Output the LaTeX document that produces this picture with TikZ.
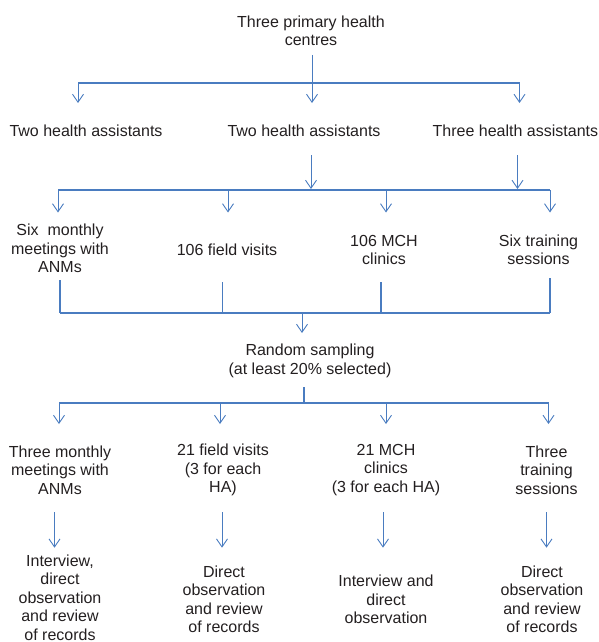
\documentclass[tikz,border=0pt]{standalone}
\usepackage{fontspec}
\setmainfont{Liberation Sans}
\usetikzlibrary{arrows.meta}
\definecolor{lineblue}{HTML}{4A7CC0}
\definecolor{txt}{HTML}{231F20}
\begin{document}
\begin{tikzpicture}[x=1pt,y=-1pt,
  lbl/.style={align=center, inner sep=0pt, text=txt, font=\fontsize{16}{18.4}\selectfont},
  conn/.style={draw=lineblue, line width=1.4pt},
  arr/.style={draw=lineblue, line width=0.9pt, -{Straight Barb[length=8pt,width=11pt,line width=0.9pt]}}]
\useasboundingbox (0,0) rectangle (598,642);

% ---- nodes
\node[lbl] (top) at (311,31) {Three primary health\\centres};
\node[lbl] (ha1) at (86,131) {Two health assistants};
\node[lbl] (ha2) at (304,131) {Two health assistants};
\node[lbl, anchor=west] (ha3) at (432.5,131) {Three health assistants};

\node[lbl] (m1) at (60,248.5) {Six~ monthly\\meetings with\\ANMs};
\node[lbl] (m2) at (227,250) {106 field visits};
\node[lbl] (m3) at (384,250) {106 MCH\\clinics};
\node[lbl] (m4) at (538.5,250) {Six training\\sessions};

\node[lbl] (rs) at (310,361) {Random sampling\\(at least 20\% selected)};

\node[lbl] (s1) at (60,470) {Three monthly\\meetings with\\ANMs};
\node[lbl] (s2) at (223,470) {21 field visits\\(3 for each\\HA)};
\node[lbl] (s3) at (386,470) {21 MCH\\clinics\\(3 for each HA)};
\node[lbl] (s4) at (546.5,470) {Three\\training\\sessions};

\node[lbl] (o1) at (60,597.5) {Interview,\\direct\\observation\\and review\\of records};
\node[lbl] (o2) at (224,599.3) {Direct\\observation\\and review\\of records};
\node[lbl] (o3) at (386,599.3) {Interview and\\direct\\observation};
\node[lbl] (o4) at (542,599.3) {Direct\\observation\\and review\\of records};

% ---- level 1: centres -> health assistants
\coordinate (t0) at (312,55);
\coordinate (j1l) at (78,83);
\coordinate (j1c) at (312,83);
\coordinate (j1r) at (519.5,83);
\draw[conn] (j1l) -- (j1r);
\draw[arr] (t0) -- ++(0,48);
\draw[arr] (j1l) -- ++(0,20);
\draw[arr] (j1r) -- ++(0,20);

% ---- level 2: health assistants -> activities
\coordinate (h2) at (311,155);
\coordinate (h3) at (517.5,155);
\coordinate (j2a) at (58,190);
\coordinate (j2b) at (228,190);
\coordinate (j2c) at (386,190);
\coordinate (j2d) at (550,190);
\draw[arr] (h2) -- ++(0,34);
\draw[arr] (h3) -- ++(0,34);
\draw[conn] (j2a) -- (j2d);
\draw[arr] (j2a) -- ++(0,22.5);
\draw[arr] (j2b) -- ++(0,22.5);
\draw[arr] (j2c) -- ++(0,22.5);
\draw[arr] (j2d) -- ++(0,22.5);

% ---- level 3: activities -> random sampling
\coordinate (u1) at (60,280);
\coordinate (u2) at (222.7,282);
\coordinate (u3) at (381,282);
\coordinate (u4) at (550,278);
\coordinate (k1) at (60,313);
\coordinate (k2) at (222.7,313);
\coordinate (k3) at (381,313);
\coordinate (k4) at (550,313);
\coordinate (kc) at (302,313);
\draw[conn] (u1) -- (k1);
\draw[conn] (u2) -- (k2);
\draw[conn] (u3) -- (k3);
\draw[conn] (u4) -- (k4);
\draw[conn] (k1) -- (k4);
\draw[arr] (kc) -- ++(0,20);

% ---- level 4: random sampling -> samples
\coordinate (r0) at (304,387);
\coordinate (r1) at (304,403);
\coordinate (j4a) at (59,403);
\coordinate (j4b) at (220,403);
\coordinate (j4c) at (386,403);
\coordinate (j4d) at (548.5,403);
\draw[conn] (r0) -- (r1);
\draw[conn] (j4a) -- (j4d);
\draw[arr] (j4a) -- ++(0,21);
\draw[arr] (j4b) -- ++(0,21);
\draw[arr] (j4c) -- ++(0,21);
\draw[arr] (j4d) -- ++(0,21);

% ---- level 5: samples -> methods
\coordinate (v1) at (54.5,512);
\coordinate (v2) at (222,512);
\coordinate (v3) at (383,512);
\coordinate (v4) at (546.5,512);
\draw[arr] (v1) -- ++(0,35.7);
\draw[arr] (v2) -- ++(0,35.7);
\draw[arr] (v3) -- ++(0,35.7);
\draw[arr] (v4) -- ++(0,35.7);
\end{tikzpicture}
\end{document}
